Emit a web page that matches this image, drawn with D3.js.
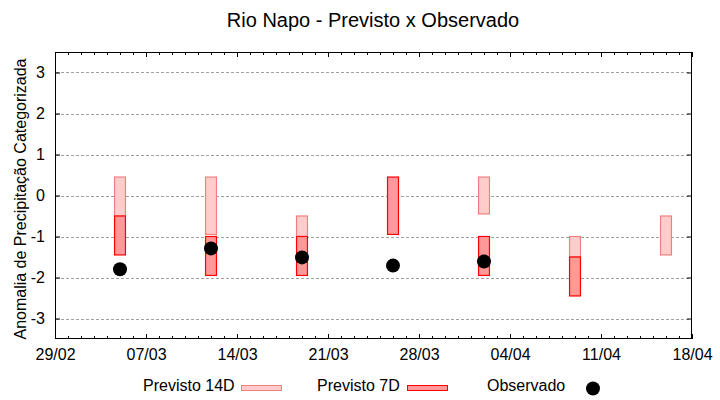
<!DOCTYPE html>
<html>
<head>
<meta charset="utf-8">
<script src="https://cdn.jsdelivr.net/npm/d3@7"></script>
<style>
  body { margin: 0; background: #fff; }
  text { font-family: "Liberation Sans", Arial, sans-serif; fill: #000; }
</style>
</head>
<body>
<div id="viz"></div>
<script>
// set dimensions and margins of the graph
var margin = ({top: 52, right: 28, bottom: 61, left: 55});
var width  = 720;
var height = 400;

// Data (one entry per forecast week)
var dates     = ["2024-03-05", "2024-03-12", "2024-03-19", "2024-03-26", "2024-04-02", "2024-04-09", "2024-04-16"];
var prev14Top = [0.45, 0.45, -0.5, null, 0.45, -1.0, -0.5];
var prev14Bot = [-0.5, -0.95, -1.0, null, -0.45, -1.5, -1.45];
var prev7Top  = [-0.5, -1.0, -1.0, 0.45, -1.0, -1.5, null];
var prev7Bot  = [-1.45, -1.95, -1.95, -0.95, -1.95, -2.45, null];
var observado = [-1.80, -1.29, -1.51, -1.71, -1.61, null, null];

var yTicks = [-3, -2, -1, 0, 1, 2, 3];
var xTicks = ["2024-02-29", "2024-03-07", "2024-03-14", "2024-03-21", "2024-03-28", "2024-04-04", "2024-04-11", "2024-04-18"];

var parse = d3.timeParse("%Y-%m-%d");
var day = 24 * 3600 * 1000;
var halfBox = 0.42 * day;

var rows = dates.map(function(d, i) {
  return {date: parse(d), t14: prev14Top[i], b14: prev14Bot[i], t7: prev7Top[i], b7: prev7Bot[i], obs: observado[i]};
});

var xScale = d3.scaleTime()
               .domain([parse(xTicks[0]), parse(xTicks[xTicks.length - 1])])
               .range([margin.left, width - margin.right]);

var yScale = d3.scaleLinear()
               .domain([-3.5, 3.5])
               .range([height - margin.bottom, margin.top]);

const svg = d3.select("#viz")
              .append("svg")
              .attr("width", width)
              .attr("height", height);

// title
svg.append("text")
   .attr("x", 373)
   .attr("y", 27)
   .attr("text-anchor", "middle")
   .style("font-size", "20px")
   .text("Rio Napo - Previsto x Observado");

// dashed horizontal grid
svg.append("g")
   .selectAll("line")
   .data(yTicks)
   .enter()
   .append("line")
   .attr("x1", margin.left + 1)
   .attr("x2", width - margin.right)
   .attr("y1", function(d) { return Math.round(yScale(d)) + 0.5; })
   .attr("y2", function(d) { return Math.round(yScale(d)) + 0.5; })
   .attr("stroke", "#a0a0a0")
   .attr("stroke-dasharray", "3,2");

// axes: ticks point inward like gnuplot, mirrored on top and right
var allDays = d3.timeDay.range(xScale.domain()[0], d3.timeDay.offset(xScale.domain()[1], 1));
var majorX = xTicks.map(parse);

svg.append("g")
   .attr("transform", "translate(0," + (height - margin.bottom) + ")")
   .call(d3.axisBottom(xScale).tickValues(allDays).tickSize(-3).tickFormat(""))
   .call(function(g) { g.select(".domain").remove(); });

svg.append("g")
   .attr("transform", "translate(0," + margin.top + ")")
   .call(d3.axisTop(xScale).tickValues(allDays).tickSize(-3).tickFormat(""))
   .call(function(g) { g.select(".domain").remove(); });

svg.append("g")
   .attr("transform", "translate(0," + (height - margin.bottom) + ")")
   .call(d3.axisBottom(xScale).tickValues(majorX).tickSize(-5).tickPadding(10).tickFormat(d3.timeFormat("%d/%m")))
   .call(function(g) { g.select(".domain").remove(); })
   .selectAll("text")
   .style("font-size", "16px");

svg.append("g")
   .attr("transform", "translate(0," + margin.top + ")")
   .call(d3.axisTop(xScale).tickValues(majorX).tickSize(-5).tickFormat(""))
   .call(function(g) { g.select(".domain").remove(); });

// plain hyphen for negatives, like the original
svg.append("g")
   .attr("transform", "translate(" + margin.left + ",0)")
   .call(d3.axisLeft(yScale).tickValues(yTicks).tickSize(-5).tickPadding(10).tickFormat(function(d) { return String(d); }))
   .call(function(g) { g.select(".domain").remove(); })
   .selectAll("text")
   .style("font-size", "16px");

svg.append("g")
   .attr("transform", "translate(" + (width - margin.right) + ",0)")
   .call(d3.axisRight(yScale).tickValues(yTicks).tickSize(-5).tickFormat(""))
   .call(function(g) { g.select(".domain").remove(); });

svg.selectAll(".tick line").attr("stroke", "#000");

// plot border
svg.append("rect")
   .attr("x", margin.left + 0.5)
   .attr("y", margin.top + 0.5)
   .attr("width", width - margin.left - margin.right - 1)
   .attr("height", height - margin.top - margin.bottom - 1)
   .attr("fill", "none")
   .attr("stroke", "#000");

// y axis label
svg.append("text")
   .attr("transform", "translate(26," + 199 + ") rotate(-90)")
   .attr("text-anchor", "middle")
   .style("font-size", "16px")
   .text("Anomalia de Precipitação Categorizada");

// 14 day forecast boxes
svg.selectAll(".box14")
   .data(rows.filter(function(d) { return d.t14 != null; }))
   .enter()
   .append("rect")
   .attr("class", "box14")
   .attr("x", function(d) { return xScale(new Date(+d.date - halfBox)); })
   .attr("width", function(d) { return xScale(new Date(+d.date + halfBox)) - xScale(new Date(+d.date - halfBox)); })
   .attr("y", function(d) { return yScale(d.t14); })
   .attr("height", function(d) { return yScale(d.b14) - yScale(d.t14); })
   .attr("fill", "#ffcccc")
   .attr("stroke", "#f08080")
   .attr("stroke-width", 1.2);

// 7 day forecast boxes
svg.selectAll(".box7")
   .data(rows.filter(function(d) { return d.t7 != null; }))
   .enter()
   .append("rect")
   .attr("class", "box7")
   .attr("x", function(d) { return xScale(new Date(+d.date - halfBox)); })
   .attr("width", function(d) { return xScale(new Date(+d.date + halfBox)) - xScale(new Date(+d.date - halfBox)); })
   .attr("y", function(d) { return yScale(d.t7); })
   .attr("height", function(d) { return yScale(d.b7) - yScale(d.t7); })
   .attr("fill", "#ff9999")
   .attr("stroke", "#ff0000")
   .attr("stroke-width", 1.2);

// observed points
svg.selectAll(".obs")
   .data(rows.filter(function(d) { return d.obs != null; }))
   .enter()
   .append("circle")
   .attr("class", "obs")
   .attr("cx", function(d) { return xScale(d.date); })
   .attr("cy", function(d) { return yScale(d.obs); })
   .attr("r", 7)
   .attr("fill", "#000");

// legend
var legend = svg.append("g").style("font-size", "16px");

legend.append("text").attr("x", 143).attr("y", 391).text("Previsto 14D");
legend.append("rect").attr("x", 241.5).attr("y", 385.5).attr("width", 40).attr("height", 5)
      .attr("fill", "#ffcccc").attr("stroke", "#f08080");

legend.append("text").attr("x", 317).attr("y", 391).text("Previsto 7D");
legend.append("rect").attr("x", 407.5).attr("y", 385.5).attr("width", 40).attr("height", 5)
      .attr("fill", "#ff9999").attr("stroke", "#ff0000");

legend.append("text").attr("x", 487).attr("y", 391).text("Observado");
legend.append("circle").attr("cx", 593).attr("cy", 388.5).attr("r", 7).attr("fill", "#000");
</script>
</body>
</html>
